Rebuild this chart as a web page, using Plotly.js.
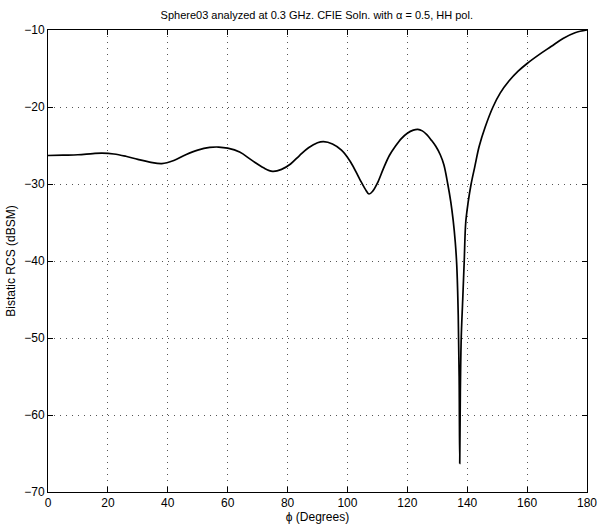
<!DOCTYPE html>
<html>
<head>
<meta charset="utf-8">
<script src="https://cdn.plot.ly/plotly-3.0.1.min.js"></script>
<style>html,body{margin:0;padding:0;background:#fff;}#chart{width:600px;height:529px;}</style>
</head>
<body>
<div id="chart"></div>
<script>
const phiDeg = [0, 5, 10, 15, 18, 22, 26, 30, 34, 38, 42, 46, 50, 54, 57, 60, 64, 68, 72, 75, 78, 81, 84, 87, 90, 92, 95, 98, 101, 104, 106, 107.2, 108.5, 110, 112, 114, 116, 118, 120, 122, 123.5, 125, 126.5, 128, 129.5, 131, 132.2, 133.5, 134.5, 135.3, 136, 136.5, 137, 137.3, 137.5, 137.7, 138, 138.5, 139, 139.5, 140.3, 141.3, 142.5, 144, 146, 148.6, 151, 154, 157, 160, 164, 168, 172, 176, 180];
const rcsDbsm = [-26.3, -26.25, -26.2, -26.05, -26.0, -26.1, -26.4, -26.8, -27.15, -27.35, -26.95, -26.2, -25.6, -25.25, -25.2, -25.35, -25.85, -26.9, -27.9, -28.35, -28.1, -27.4, -26.3, -25.3, -24.65, -24.5, -24.8, -25.6, -27.1, -29.3, -30.7, -31.3, -30.9, -29.9, -28.0, -26.3, -25.1, -24.1, -23.4, -23.0, -22.9, -23.1, -23.6, -24.3, -25.1, -26.2, -27.5, -30.0, -32.3, -34.7, -37.5, -40.5, -47, -55, -66.3, -57, -50, -45, -40, -35, -32.4, -30, -27.8, -25.1, -22.6, -20, -18.2, -16.6, -15.35, -14.35, -13.2, -12.15, -11.1, -10.35, -10.0];
const xTicks = [0, 20, 40, 60, 80, 100, 120, 140, 160, 180];
const yTicks = [-70, -60, -50, -40, -30, -20, -10];

const font = {family: 'Liberation Sans, Arial, sans-serif', color: '#000', size: 12};
const trace = {
  x: phiDeg, y: rcsDbsm, type: 'scatter', mode: 'lines',
  line: {color: '#000', width: 1.7, shape: 'spline', smoothing: 1},
  hoverinfo: 'skip'
};
const axisCommon = {
  showline: true, linecolor: '#000', linewidth: 1, mirror: 'ticks',
  ticks: 'inside', ticklen: 5, tickcolor: '#000', tickwidth: 1,
  showgrid: true, gridcolor: '#555', gridwidth: 1, griddash: '1px,5px',
  zeroline: false, tickfont: font
};
const layout = {
  width: 600, height: 529,
  margin: {l: 48, r: 13, t: 30, b: 37},
  paper_bgcolor: '#fff', plot_bgcolor: '#fff',
  showlegend: false,
  font: font,
  title: {text: 'Sphere03 analyzed at 0.3 GHz. CFIE Soln. with \u03b1 = 0.5, HH pol.', font: {family: font.family, size: 11, color: '#000'}, x: 0.528, xanchor: 'center', y: 0.972, yanchor: 'middle'},
  xaxis: Object.assign({}, axisCommon, {
    range: [0, 180], tickvals: xTicks, ticktext: xTicks.map(String),
    title: {text: '\u03d5 (Degrees)', font: {family: font.family, size: 12, color: '#000'}, standoff: 2}
  }),
  yaxis: Object.assign({}, axisCommon, {
    range: [-70, -10], tickvals: yTicks,
    title: {text: 'Bistatic RCS (dBSM)', font: {family: font.family, size: 12, color: '#000'}, standoff: 6}
  })
};
Plotly.newPlot('chart', [trace], layout, {displayModeBar: false, staticPlot: true});
</script>
</body>
</html>
